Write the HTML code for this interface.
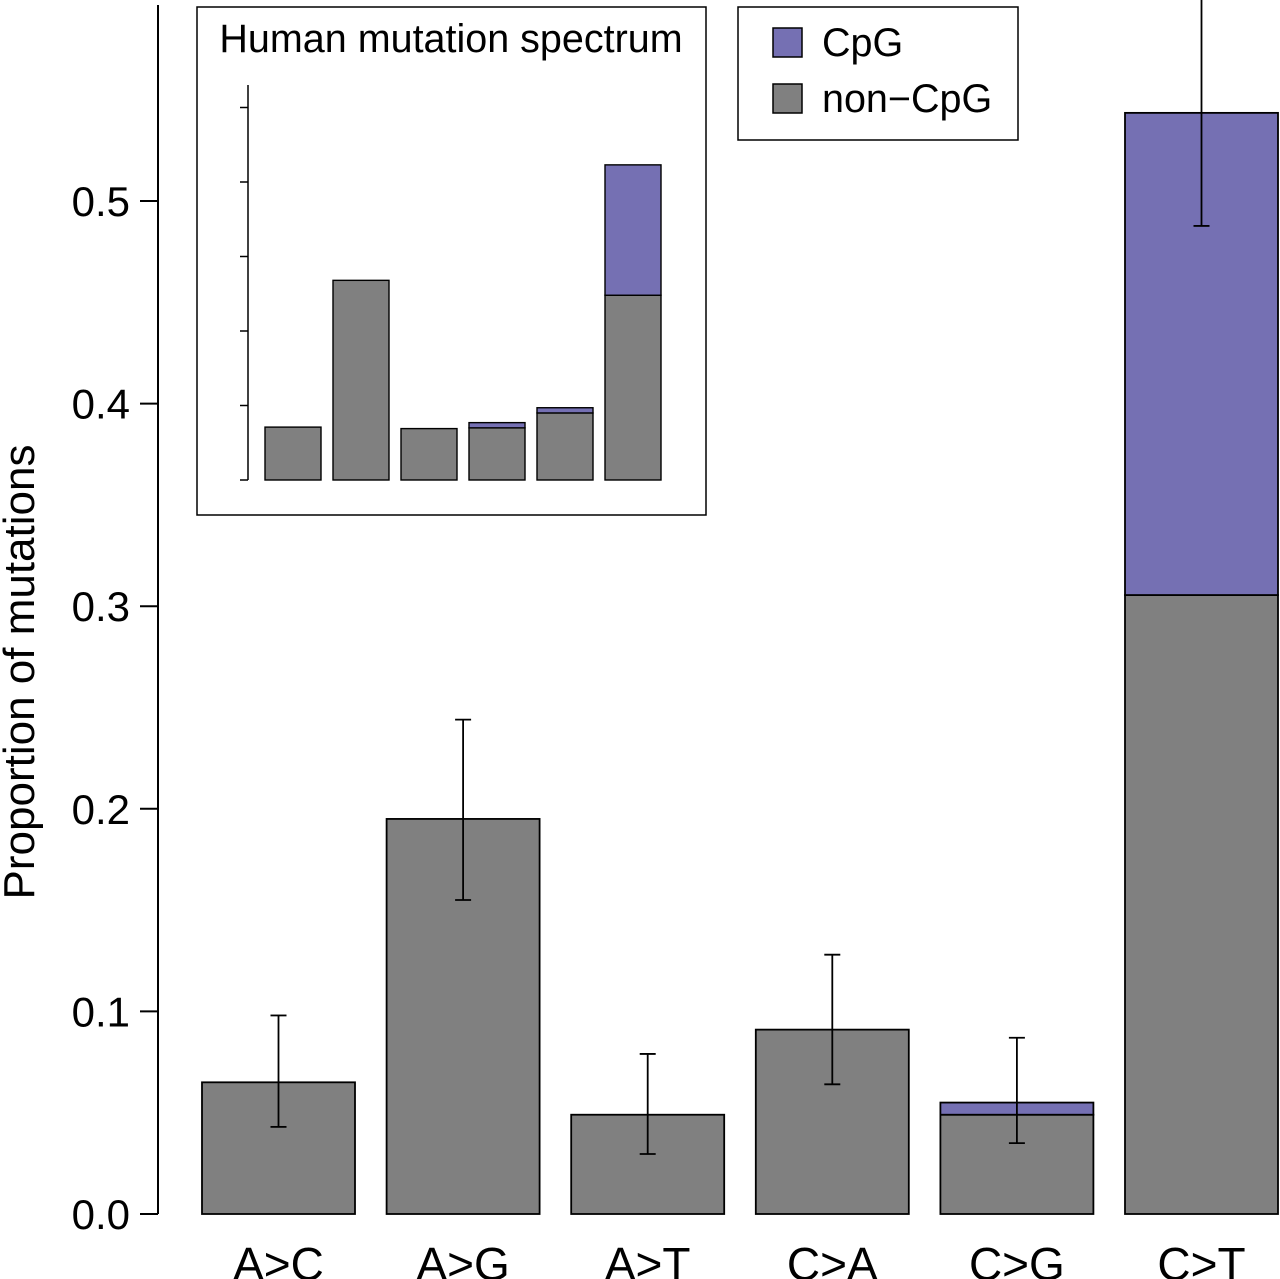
<!DOCTYPE html>
<html><head><meta charset="utf-8"><style>
html,body{margin:0;padding:0;background:#fff}
svg{display:block;font-family:"Liberation Sans",sans-serif}
</style></head><body>
<svg id="chart" width="1280" height="1279" viewBox="0 0 1280 1279"></svg>
<script>
const categories=["A>C","A>G","A>T","C>A","C>G","C>T"];
const nonCpg=[0.065,0.195,0.049,0.091,0.049,0.3055];
const cpg=[0,0,0,0,0.006,0.238];
const errLow=[0.043,0.155,0.0296,0.064,0.035,0.4877];
const errHigh=[0.098,0.244,0.079,0.128,0.087,0.6];
const yTicks=[0,0.1,0.2,0.3,0.4,0.5];
const yTickLabels=["0.0","0.1","0.2","0.3","0.4","0.5"];
const insetNonCpg=[0.071,0.268,0.069,0.070,0.090,0.248];
const insetCpg=[0,0,0,0.007,0.007,0.175];
const insetTicks=[0,0.1,0.2,0.3,0.4,0.5];

const NS="http://www.w3.org/2000/svg";
const svg=document.getElementById('chart');
function mk(t,a,p){const e=document.createElementNS(NS,t);for(const k in a)e.setAttribute(k,a[k]);(p||svg).appendChild(e);return e;}
const GRAY="#808080",PUR="#7570b3";
const y=v=>1214-v*2026;
const xStart=202,step=184.6,bw=153;
const x=i=>xStart+i*step;

const ax=mk('g',{});


mk('line',{x1:158,y1:5,x2:158,y2:1214,stroke:'#000','stroke-width':2},ax);
yTicks.forEach((v,i)=>{
  mk('line',{x1:140,y1:y(v),x2:158,y2:y(v),stroke:'#000','stroke-width':2},ax);
  const t=mk('text',{x:130,y:y(v)+15,'text-anchor':'end','font-size':42},ax);
  
  
  t.textContent=yTickLabels[i];
});
const yt=mk('text',{x:0,y:0,'font-size':44,'text-anchor':'middle',transform:'translate(34,672) rotate(-90)'});


yt.textContent='Proportion of mutations';

categories.forEach((c,i)=>{
  const b=mk('rect',{x:x(i),y:y(nonCpg[i]),width:bw,height:y(0)-y(nonCpg[i]),fill:GRAY,stroke:'#000','stroke-width':1.8});
  
  
  if(cpg[i]>0){
    const p=mk('rect',{x:x(i),y:y(nonCpg[i]+cpg[i]),width:bw,height:y(nonCpg[i])-y(nonCpg[i]+cpg[i]),fill:PUR,stroke:'#000','stroke-width':1.8});
    
    
  }
  const cx=x(i)+bw/2;
  const g=mk('g',{stroke:'#000','stroke-width':1.8});
  
  
  mk('line',{x1:cx,y1:y(errLow[i]),x2:cx,y2:y(errHigh[i])},g);
  mk('line',{x1:cx-8,y1:y(errLow[i]),x2:cx+8,y2:y(errLow[i])},g);
  mk('line',{x1:cx-8,y1:y(errHigh[i]),x2:cx+8,y2:y(errHigh[i])},g);
  const t=mk('text',{x:cx,y:1280,'text-anchor':'middle','font-size':46});
  
  
  t.textContent=c;
});

const ins=mk('g',{});


mk('rect',{x:197,y:7,width:509,height:508,fill:'#fff',stroke:'#000','stroke-width':1.5},ins);
const it=mk('text',{x:451,y:52,'text-anchor':'middle','font-size':39.5},ins);


it.textContent='Human mutation spectrum';
const iy=v=>480-v*745;
mk('line',{x1:248,y1:85,x2:248,y2:480,stroke:'#000','stroke-width':1.5},ins);
insetTicks.forEach(v=>mk('line',{x1:240,y1:iy(v),x2:248,y2:iy(v),stroke:'#000','stroke-width':1.5},ins));
categories.forEach((c,i)=>{
  const bx=265+i*68;
  const b=mk('rect',{x:bx,y:iy(insetNonCpg[i]),width:56,height:iy(0)-iy(insetNonCpg[i]),fill:GRAY,stroke:'#000','stroke-width':1.4},ins);
  
  
  if(insetCpg[i]>0){
    const p=mk('rect',{x:bx,y:iy(insetNonCpg[i]+insetCpg[i]),width:56,height:iy(insetNonCpg[i])-iy(insetNonCpg[i]+insetCpg[i]),fill:PUR,stroke:'#000','stroke-width':1.4},ins);
    
    
  }
});

const lg=mk('g',{});


mk('rect',{x:738,y:7,width:280,height:133,fill:'#fff',stroke:'#000','stroke-width':1.5},lg);
[["CpG",PUR,28],["non\u2212CpG",GRAY,84]].forEach(([n,col,yy])=>{
  const e=mk('g',{},lg);
  
  
  mk('rect',{x:773,y:yy,width:29,height:29,fill:col,stroke:'#000','stroke-width':1.5},e);
  const t=mk('text',{x:822,y:yy+28,'font-size':39.5},e);
  t.textContent=n;
});
</script>
</body></html>
